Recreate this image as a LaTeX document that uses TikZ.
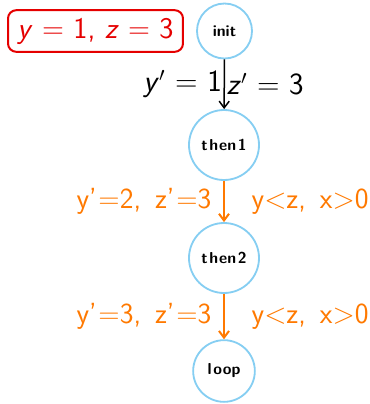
\documentclass[tikz,border=0pt]{standalone}
\usepackage{fontspec}
\usepackage{tikz}
\usetikzlibrary{arrows.meta}
\tikzset{every node/.style={font=\sffamily}}
\colorlet{statecol}{cyan!45!white!95!blue}
\colorlet{initcol}{red!90!black}
\colorlet{transcol}{orange!95!red}
\colorlet{edgecol}{black}
\tikzset{
  state/.style={circle, draw=statecol, line width=1.1pt, inner sep=0pt,
    font=\sffamily\bfseries\fontsize{9.5}{11}\selectfont},
  biglabel/.style={font=\sffamily\fontsize{18.5}{20}\selectfont},
  guardlabel/.style={text=transcol, font=\sffamily\fontsize{17.5}{19}\selectfont}
}

\begin{document}
\begin{tikzpicture}[x=0.6pt, y=-0.6pt, >={Straight Barb[length=4pt, width=6pt]}]

  \useasboundingbox (0,0) rectangle (370,404);

  % States.
  \node[state, minimum size=33pt] (init)  at (224.5,31)  {init};
  \node[state, minimum size=42pt] (then1) at (224,145)   {t\kern1pt h\kern0.5pt en\kern1pt 1};
  \node[state, minimum size=42pt] (then2) at (224,258)   {t\kern1pt h\kern0.5pt en\kern1pt 2};
  \node[state, minimum size=37pt] (loop)  at (224,371)   {l\kern1pt o\kern0.5pt op};

  % Initial values.
  \node[draw=initcol, text=initcol, line width=1.2pt, rounded corners=5pt,
    inner xsep=3pt, inner ysep=3pt, minimum width=105pt, minimum height=25pt,
    font=\sffamily\fontsize{18}{20}\selectfont] (start) at (95.5,31)
    {\textit{y} = 1, \textit{z} = 3};

  % Transitions.
  \draw[->, line width=0.9pt, edgecol] (init) -- (then1)
    node[midway, left, inner sep=1pt, biglabel] (upd0) {\textit{y}$'$ = 1}
    node[midway, right, inner sep=1pt, biglabel] (upd0b) {\textit{z}$'$ = 3};

  \draw[->, line width=1.2pt, transcol] (then1) -- (then2)
    node[midway, left, inner sep=0pt, xshift=-7pt, guardlabel] (upd1) {y'\kern1pt=2,\ \,z'\kern1pt=3}
    node[midway, right, inner sep=0pt, xshift=16pt, guardlabel] (grd1) {y<z,\ \,x>0};

  \draw[->, line width=1.2pt, transcol] (then2) -- (loop)
    node[midway, left, inner sep=0pt, xshift=-7pt, guardlabel] (upd2) {y'\kern1pt=3,\ \,z'\kern1pt=3}
    node[midway, right, inner sep=0pt, xshift=16pt, guardlabel] (grd2) {y<z,\ \,x>0};

\end{tikzpicture}
\end{document}
